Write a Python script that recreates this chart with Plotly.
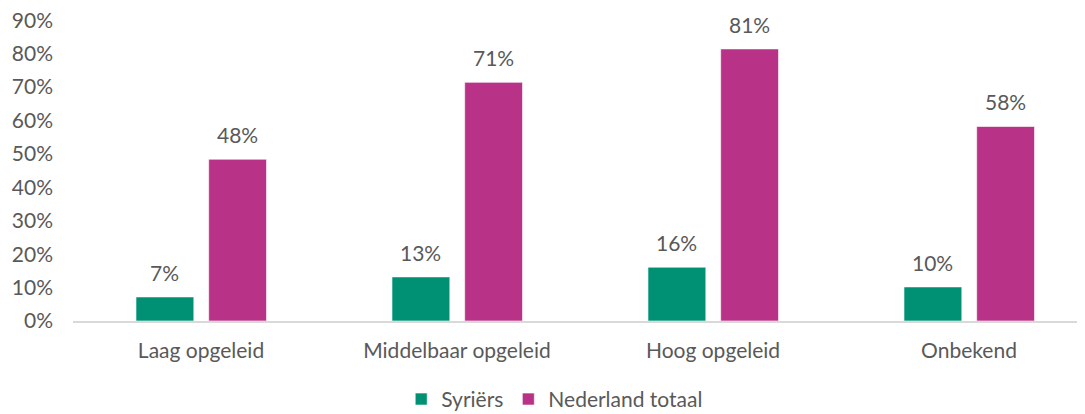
import plotly.graph_objects as go

categories = ["Laag opgeleid", "Middelbaar opgeleid", "Hoog opgeleid", "Onbekend"]
syriers = [7.2, 13.2, 16.1, 10.2]
nederland = [48.4, 71.4, 81.4, 58.2]
series_names = ["Syriërs", "Nederland totaal"]
colors = ["#009175", "#B83387"]
y_ticks = [0, 10, 20, 30, 40, 50, 60, 70, 80, 90]

FONT = "Lato"
TXT = "#595959"
FS = 21
pos = list(range(len(categories)))
bar_w = 0.226
offsets = [-0.254, 0.030]

fig = go.Figure()
for name, vals, col, off in zip(series_names, [syriers, nederland], colors, offsets):
    fig.add_trace(go.Bar(
        x=pos, y=vals, name=name, width=bar_w, offset=off,
        marker=dict(color=col, line=dict(color="rgba(255,255,255,0.6)", width=1)),
    ))
    for xi, v in zip(pos, vals):
        fig.add_annotation(
            x=xi + off + bar_w / 2, y=v, xref="x", yref="y",
            text=f"{round(v)}%", showarrow=False, yanchor="bottom", yshift=10,
            font=dict(family=FONT, size=FS, color=TXT),
        )

fig.update_layout(
    width=1077, height=406,
    margin=dict(l=65, r=0, t=12, b=93),
    plot_bgcolor="white", paper_bgcolor="white",
    showlegend=True,
    legend=dict(orientation="h", x=0.476, xanchor="center",
                yref="container", y=0.036, yanchor="middle",
                font=dict(family=FONT, size=FS, color=TXT), traceorder="normal",
                itemwidth=30),
    xaxis=dict(
        range=[-0.5, -0.5 + 1012 / 256], tickvals=pos, ticktext=categories,
        showline=True, linecolor="#D9D9D9", linewidth=1.5, ticks="",
        showgrid=False, zeroline=False, automargin=False, ticklabelstandoff=10,
        tickfont=dict(family=FONT, size=FS, color=TXT),
    ),
    yaxis=dict(
        range=[0, 90.05], tickvals=y_ticks, ticktext=[f"{t}%" for t in y_ticks],
        showgrid=False, zeroline=False, showline=False, ticks="", automargin=False,
        ticklabelstandoff=19, ticklabeloverflow="allow",
        tickfont=dict(family=FONT, size=FS, color=TXT),
    ),
)

fig.write_html("out.html")
